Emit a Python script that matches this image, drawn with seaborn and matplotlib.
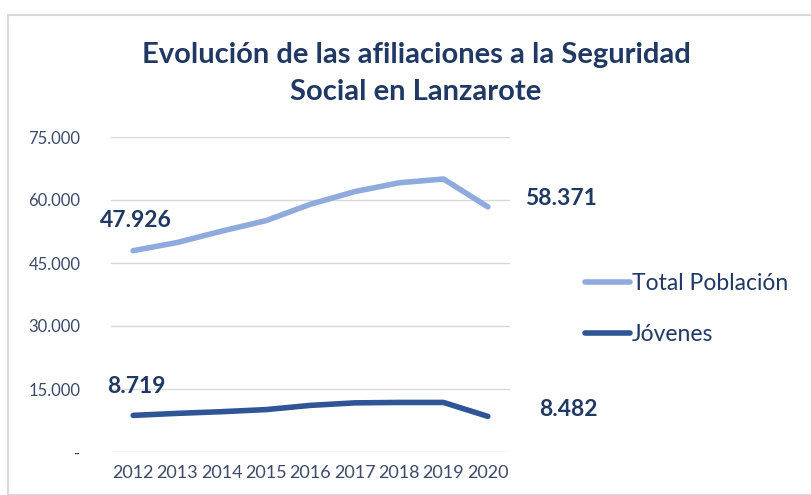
import pandas as pd
import matplotlib.pyplot as plt
import seaborn as sns
from matplotlib.patches import Rectangle
from matplotlib.lines import Line2D

# Data
years = [2012, 2013, 2014, 2015, 2016, 2017, 2018, 2019, 2020]
total = [47926, 49900, 52600, 55100, 59000, 62000, 64100, 65000, 58371]
jovenes = [8719, 9200, 9600, 10100, 11100, 11700, 11800, 11800, 8482]
series_names = ["Total Población", "Jóvenes"]
y_ticks = [0, 15000, 30000, 45000, 60000, 75000]

df = pd.DataFrame({
    "year": years * 2,
    "value": total + jovenes,
    "serie": [series_names[0]] * len(years) + [series_names[1]] * len(years),
})

sns.set_style("white")
plt.rcParams['font.family'] = ['Lato', 'DejaVu Sans']

light = "#8FAADC"
dark = "#2F5597"
navy = "#203864"
tick_col = "#3B4A6B"

W, H = 811, 495
fig = plt.figure(figsize=(W / 100, H / 100), dpi=100)
fig.patches.append(Rectangle((8 / W, 0), 1, (H - 15) / H, transform=fig.transFigure,
                             fill=False, edgecolor="#D9D9D9", linewidth=1.5))

ax = fig.add_axes([111 / W, (H - 452) / H, (510 - 111) / W, (452 - 137) / H])
sns.lineplot(data=df, x="year", y="value", hue="serie", palette=[light, dark],
             linewidth=4, ax=ax, legend=False, sort=False)
for ln in ax.lines:
    ln.set_solid_capstyle("round")

ax.set_xlim(2011.5, 2020.5)
ax.set_ylim(0, 75000)
ax.set_yticks(y_ticks)
ax.set_yticklabels(["-"] + [f"{v:,}".replace(",", ".") for v in y_ticks[1:]])
ax.set_xticks(years)
ax.set_xticklabels([str(y) for y in years])
ax.tick_params(axis="both", length=0, labelcolor=tick_col)
ax.tick_params(axis="y", pad=22, labelsize=12)
ax.tick_params(axis="x", pad=9, labelsize=13)
ax.grid(axis="y", color="#D9D9D9", linewidth=1)
ax.set_xlabel("")
ax.set_ylabel("")
for s in ax.spines.values():
    s.set_visible(False)

lbl = dict(fontsize=16.5, fontweight="bold", color=navy, textcoords="offset points")
fmt = lambda v: f"{v:,}".replace(",", ".")
ax.annotate(fmt(total[0]), (years[0], total[0]), xytext=(2, 22), ha="center", va="center", **lbl)
ax.annotate(fmt(total[-1]), (years[-1], total[-1]), xytext=(27, 6), ha="left", va="center", **lbl)
ax.annotate(fmt(jovenes[0]), (years[0], jovenes[0]), xytext=(2, 21), ha="center", va="center", **lbl)
ax.annotate(fmt(jovenes[-1]), (years[-1], jovenes[-1]), xytext=(37, 5), ha="left", va="center", **lbl)

fig.text(416 / W, 1 - 55 / H, "Evolución de las afiliaciones a la Seguridad", ha="center", va="center",
         fontsize=21, fontweight="bold", color=navy)
fig.text(416 / W, 1 - 92 / H, "Social en Lanzarote", ha="center", va="center",
         fontsize=21, fontweight="bold", color=navy)

handles = [Line2D([0], [0], color=light, lw=4, solid_capstyle="round"),
           Line2D([0], [0], color=dark, lw=4, solid_capstyle="round")]
leg = fig.legend(handles, series_names, loc="center left", bbox_to_anchor=(564 / W, 1 - 309 / H),
                 frameon=False, fontsize=16.5, handlelength=2.0, handletextpad=0.06, labelspacing=1.35)
for t in leg.get_texts():
    t.set_color(navy)

fig.savefig("out.png", dpi=100)
